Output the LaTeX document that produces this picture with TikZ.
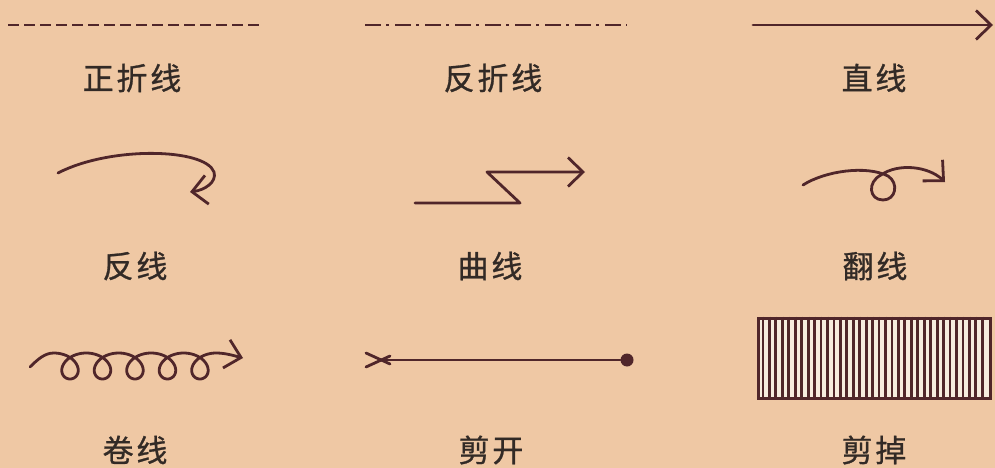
\documentclass[tikz,border=0pt]{standalone}
\usepackage{fontspec}
\newfontfamily\cjk[LetterSpace=9,FakeBold=0.9]{Noto Sans CJK SC}
\usepackage{tikz}
\usetikzlibrary{calc,arrows.meta,positioning}
\definecolor{paper}{RGB}{239,200,164}
\definecolor{ink}{RGB}{80,38,42}
\definecolor{txt}{RGB}{50,42,38}
\definecolor{strip}{RGB}{246,236,222}
\tikzset{
	inkline/.style={draw=ink,line width=2.8pt,line cap=round,line join=round},
	barb/.style={-{Straight Barb[length=15pt,width=29pt]}},
	lbl/.style={font=\cjk\fontsize{31}{31}\selectfont,text=txt,inner sep=0pt}
}

\begin{document}
\begin{tikzpicture}[x=1pt,y=-1pt]
	\useasboundingbox (0,0) rectangle (995,468);
	\fill[paper] (0,0) rectangle (995,468);
	% labels
	\foreach \n/\x/\y/\t in {zheng/132/78/正折线,fan/493/78/反折线,zhi/874/78/直线,
		fanx/135/266/反线,qu/490/266/曲线,fanl/875/266/翻线,
		juan/135/450/卷线,jiank/491/450/剪开,jiand/874/450/剪掉}
	\node[lbl] (\n) at (\x,\y) {\t};
	
	% row 1
	\coordinate (za) at (8,25); \coordinate (zb) at (262,25);
	\draw[inkline,line cap=butt,dash pattern=on 11pt off 5pt] (za) -- (zb);
	\coordinate (fa) at (365,25); \coordinate (fb) at (627,25);
	\draw[inkline,line cap=butt,dash pattern=on 16pt off 5pt on 3pt off 6pt] (fa) -- (fb);
	\coordinate (sa) at (753,25); \coordinate (sb) at (993,25);
	\draw[inkline,barb] (sa) -- (sb);
	
	% row 2
	\coordinate (ra) at (58,173); \coordinate (rb) at (190,192);
	\draw[inkline,barb] (ra) .. controls (110,146) and (205,148) .. (214,172)
	.. controls (217,182) and (205,190) .. (rb);
	\coordinate (qa) at (415,203); \coordinate (qb) at (585,172);
	\draw[inkline,barb] (qa) -- (520,203) -- (487,172) -- (qb);
	\coordinate (la) at (803,185); \coordinate (lb) at (945,182);
	\draw[inkline,barb] (la) .. controls (825,171) and (866,165) .. (888,176)
	.. controls (899,183) and (896,200) .. (883,200)
	.. controls (869,200) and (867,182) .. (881,175)
	.. controls (898,163) and (928,166) .. (lb);
	
	% row 3
	\coordinate (ja) at (30,367); \coordinate (jb) at (243,358);
	\draw[inkline,barb] (ja) .. controls (38,359) and (45,353) .. (53.8,353)
	-- plot[domain=-3.14159:28.2743,samples=300] ({70+5.17*\x-15.5*sin(\x r)},{366+13*cos(\x r)})
	.. controls (226,353) and (235,356) .. (jb);
	\coordinate (ka) at (381,360);
	\node[circle,fill=ink,inner sep=0pt,minimum size=13pt] (kdot) at (627,360) {};
	\draw[inkline] (ka) -- (kdot);
	\draw[inkline] (366,353) -- (390,364);
	\draw[inkline] (366,367) -- (390,356);
	\node[draw=ink,line width=3pt,fill=strip,inner sep=0pt,minimum width=232pt,minimum height=80pt] (cut) at (874,358) {};
	\foreach \i in {1,...,35}
	\draw[ink,line width=2.8pt] ($(cut.north west)+(\i*6.45,0)$) -- ($(cut.south west)+(\i*6.45,0)$);
\end{tikzpicture}
\end{document}
